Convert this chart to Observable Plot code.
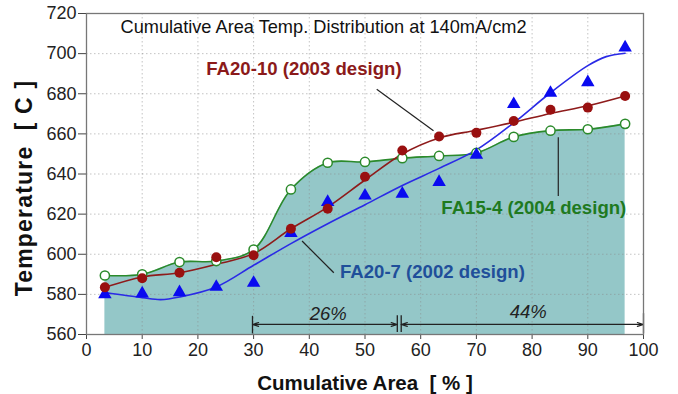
<!DOCTYPE html>
<html>
<head>
<meta charset="utf-8">
<script src="https://cdn.jsdelivr.net/npm/d3@7"></script>
<script src="https://cdn.jsdelivr.net/npm/@observablehq/plot@0.6"></script>
<style>
  html, body { margin: 0; padding: 0; background: #fff; }
  svg { display: block; }
</style>
</head>
<body>
<div id="chart"></div>
<script>
// ---- data ----
const areaPct = [3.3, 10, 16.7, 23.3, 30, 36.7, 43.3, 50, 56.7, 63.3, 70, 76.7, 83.3, 90, 96.7];
const fa15_4  = [589.4, 590, 596.1, 596.6, 602.3, 632.3, 645.6, 646, 647.9, 649, 650.5, 658.5, 661.6, 662.3, 665];
const fa20_10 = [583.5, 588, 590.8, 598.5, 599.5, 612.7, 622.7, 638.6, 651.7, 658.7, 660.5, 666.4, 672, 673.1, 678.9];
const fa20_7  = [580, 580.4, 581, 583.7, 585.7, 610.5, 626, 629.2, 630.1, 636, 649.5, 674.8, 680.4, 685.7, 703];

// fitted trend lines
const redFitX = [3.3, 10, 16.7, 23.3, 30, 36.7, 43.3, 50, 56.7, 63.3, 70, 76.7, 83.3, 90, 96.7];
const redFitT = [583.5, 588.7, 590.8, 595, 600.3, 612.7, 623.5, 637, 650, 658, 661.8, 665.8, 670.2, 674, 678.9];
const blueFitX = [3.3, 10, 13.3, 16.7, 23.3, 30, 36.7, 43.3, 50, 56.7, 63.3, 70, 76.7, 83.3, 90, 93.3, 96.7];
const blueFitT = [580.9, 578.4, 577.4, 578.7, 583.7, 594.5, 605.3, 615.2, 624.7, 634.3, 642.8, 652, 665.5, 680.5, 694, 698.5, 700.2];

const xTicks = [0, 10, 20, 30, 40, 50, 60, 70, 80, 90, 100];
const yTicks = [560, 580, 600, 620, 640, 660, 680, 700, 720];

const titleText = "Cumulative Area Temp. Distribution at 140mA/cm2";
const xLabel = "Cumulative Area  [ % ]";
const yLabel = "Temperature  [ C ]";

// annotation labels and leader lines (data units)
const seriesLabels = [
  {name: "FA20-10 (2003 design)", x: 21.5, t: 692.5, color: "#8b1a1a"},
  {name: "FA15-4 (2004 design)",  x: 63.7, t: 622.9, color: "#1f7a1f"},
  {name: "FA20-7 (2002 design)",  x: 45.5, t: 591.1, color: "#1f4f9a"}
];
const leaders = [
  {x1: 52.1, t1: 682.2, x2: 62.3, t2: 661.6},
  {x1: 84.7, t1: 658.3, x2: 84.7, t2: 629},
  {x1: 38.7, t1: 606.6, x2: 44.4, t2: 590.8}
];
// span arrows (double-headed: drawn as two half arrows from the label position)
const spans = [
  {x1: 29.8, x2: 55.8, t: 565, label: "26%", lx: 43.4, lt: 570.3},
  {x1: 56.5, x2: 100,  t: 565, label: "44%", lx: 79.3, lt: 571}
];
const spanTicks = [
  {x: 29.8, t1: 560.5, t2: 569.3},
  {x: 55.8, t1: 561.3, t2: 569.6},
  {x: 56.5, t1: 561.3, t2: 569.6},
  {x: 100,  t1: 560.6, t2: 570.6}
];

// ---- build tables ----
const pts = areaPct.map((x, i) => ({x, g: fa15_4[i], r: fa20_10[i], b: fa20_7[i]}));
const redFit = redFitX.map((x, i) => ({x, t: redFitT[i]}));
const blueFit = blueFitX.map((x, i) => ({x, t: blueFitT[i]}));
const halfArrows = spans.flatMap(s => [
  {from: s.lx, to: s.x1, t: s.t},
  {from: s.lx, to: s.x2, t: s.t}
]);

const fillColor = "#94c7c8";
const green = "#2b8a2b";
const red = "#8e1b1b";
const blue = "#2a2ae6";

const chart = Plot.plot({
  width: 678,
  height: 394,
  marginLeft: 86,
  marginRight: 35,
  marginTop: 13,
  marginBottom: 60,
  style: {fontFamily: "'Liberation Sans', Arial, sans-serif", fontSize: "18px", background: "#fff", color: "#222"},
  x: {domain: [0, 100]},
  y: {domain: [560, 720]},
  marks: [
    Plot.areaY(pts, {x: "x", y1: () => 560, y2: "g", curve: "catmull-rom", fill: fillColor}),
    Plot.gridX(xTicks, {stroke: "#8a8a8a", strokeOpacity: 0.5, strokeDasharray: "1.5,2.5"}),
    Plot.gridY(yTicks, {stroke: "#8a8a8a", strokeOpacity: 0.5, strokeDasharray: "1.5,2.5"}),
    Plot.line(pts, {x: "x", y: "g", curve: "catmull-rom", stroke: green, strokeWidth: 1.6}),
    Plot.line(redFit, {x: "x", y: "t", curve: "catmull-rom", stroke: red, strokeWidth: 1.6}),
    Plot.line(blueFit, {x: "x", y: "t", curve: "catmull-rom", stroke: blue, strokeWidth: 1.6}),
    Plot.link(leaders, {x1: "x1", y1: "t1", x2: "x2", y2: "t2", stroke: "#222", strokeWidth: 1.2}),
    Plot.dot(pts, {x: "x", y: "g", r: 4.6, fill: "#fff", stroke: green, strokeWidth: 1.5}),
    Plot.dot(pts, {x: "x", y: "b", symbol: "triangle", r: 5, fill: "#0a0af0", stroke: "none"}),
    Plot.dot(pts, {x: "x", y: "r", r: 5, fill: "#991010", stroke: "none"}),
    Plot.text(seriesLabels, {x: "x", y: "t", text: "name", fill: "color", textAnchor: "start", fontWeight: "bold", fontSize: 18.6}),
    Plot.arrow(halfArrows, {x1: "from", x2: "to", y1: "t", y2: "t", stroke: "#222", strokeWidth: 1.2, headLength: 8, headAngle: 35}),
    Plot.link(spanTicks, {x1: "x", x2: "x", y1: "t1", y2: "t2", stroke: "#222", strokeWidth: 1.3}),
    Plot.text(spans, {x: "lx", y: "lt", text: "label", fontStyle: "italic", fontSize: 18.5, fill: "#222"}),
    Plot.text([titleText], {frameAnchor: "top-left", dx: 34, dy: 7, textAnchor: "start", lineAnchor: "top", fontSize: 18.2, fill: "#111"}),
    Plot.axisX(xTicks, {tickSize: 5, tickPadding: 4, fontSize: 18, label: null, stroke: "#444"}),
    Plot.axisY(yTicks, {tickSize: 8, tickPadding: 2, fontSize: 18, label: null, stroke: "#444"}),
    Plot.text([xLabel], {frameAnchor: "bottom", dy: 49, lineAnchor: "middle", fontWeight: "bold", fontSize: 20.5, fill: "#111"}),
    Plot.text([yLabel], {frameAnchor: "left", dx: -62, dy: 14, rotate: -90, textAnchor: "middle", lineAnchor: "middle", fontWeight: "bold", fontSize: 23, fill: "#111"}),
    Plot.frame({stroke: "#777", strokeWidth: 1.3})
  ]
});
document.getElementById("chart").appendChild(chart);
// small typographic tweak: widen the y-axis title's letter spacing like the reference
d3.select(chart).selectAll("text").filter(function() { return this.textContent === yLabel; })
  .style("letter-spacing", "1.2px");
</script>
</body>
</html>
